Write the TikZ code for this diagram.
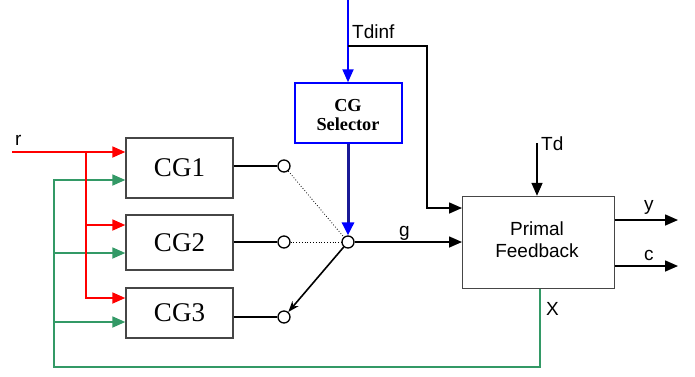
\documentclass[tikz,border=0pt]{standalone}
\usepackage{fontspec}
\setmainfont{Liberation Serif}
\newfontfamily\arialf{Liberation Sans}
\usetikzlibrary{arrows.meta}
\definecolor{rd}{RGB}{255,0,0}
\definecolor{gr}{RGB}{51,153,102}
\definecolor{bl}{RGB}{0,0,255}
\definecolor{nav}{RGB}{25,25,150}
\definecolor{bx}{RGB}{70,70,70}
\begin{document}
\begin{tikzpicture}[x=1pt,y=-1pt,
  tri/.style={-{Triangle[length=13pt,width=11pt]}},
  cgbox/.style={draw=bx,line width=1.4pt,minimum width=107pt,inner sep=0pt,font=\fontsize{27}{30}\selectfont},
  pbox/.style={draw=bx,line width=1.4pt,minimum width=152pt,minimum height=92pt,align=center,font=\arialf\fontsize{19}{22}\selectfont},
  selbox/.style={draw=bl,line width=2pt,minimum width=107pt,minimum height=60pt,align=center,font=\bfseries\fontsize{18.3}{19.5}\selectfont},
  sw/.style={circle,draw,fill=white,line width=1.3pt,minimum size=12pt,inner sep=0pt},
  blk/.style={line width=1.6pt},
  redl/.style={draw=rd,line width=1.8pt},
  grnl/.style={draw=gr,line width=1.8pt},
  lbl/.style={anchor=base west,inner sep=0pt,font=\arialf\fontsize{19}{22}\selectfont}]
\useasboundingbox (0,0) rectangle (695,376);
\fill[white] (0,0) rectangle (695,376);

% blocks
\node[cgbox,minimum height=60pt] (cg1) at (179.5,168) {CG1};
\node[cgbox,minimum height=55pt] (cg2) at (179.5,242.5) {CG2};
\node[cgbox,minimum height=50pt] (cg3) at (179.5,313) {CG3};
\node[selbox] (sel) at (348,113.3) {};
\node[align=center,font=\bfseries\fontsize{18.3}{19.5}\selectfont,inner sep=0pt] (seltxt) at (348,115) {CG\\Selector};
\node[pbox] (pf) at (538.7,242.5) {};
\node[align=center,font=\arialf\fontsize{19}{22}\selectfont,inner sep=0pt] (pftxt) at (537,239.5) {Primal\\Feedback};

% switch
\node[sw] (s1) at (284,166) {};
\node[sw] (s2) at (284,242) {};
\node[sw] (s3) at (284,317) {};
\node[sw] (sc) at (348,242) {};

\draw[blk] (cg1.east |- s1) -- (s1);
\draw[blk] (cg2.east |- s2) -- (s2);
\draw[blk] (cg3.east |- s3) -- (s3);
\draw[dotted,line width=0.8pt] (s1) -- (sc);
\draw[dotted,line width=0.8pt] (s2) -- (sc);
\draw[blk,-{Stealth[length=11pt,width=8pt]}] (sc) -- (s3);

% g
\draw[blk,tri] (sc) -- (pf.west |- sc);
\node[lbl] (g) at (399,236) {g};

% selector input
\coordinate (top) at (348,0);
\draw[draw=bl,line width=2pt,-{Triangle[length=13pt,width=11pt,fill=bl]}] (top) -- (sel.north);
\draw[draw=nav,line width=3pt,-{Triangle[length=13pt,width=12pt,color=bl,fill=bl]}] (sel.south) -- (sc.north);

% Tdinf branch
\coordinate (tj) at (348,46);
\coordinate (tc) at (427,46);
\draw[blk,tri] (tj) -- (tc) |- (pf.west |- {(0,208)});
\node[lbl] (tdinf) at (352,38) {Tdinf};

% Td
\coordinate (td) at (537,143);
\draw[blk,tri] (td) -- (td |- pf.north);
\node[lbl] (tdl) at (541,150) {Td};

% outputs
\coordinate (yo) at (678,220);
\coordinate (co) at (678,266);
\draw[blk,tri] (pf.east |- yo) -- (yo);
\draw[blk,tri] (pf.east |- co) -- (co);
\node[lbl] (yl) at (644,210) {y};
\node[lbl] (cl) at (644,260) {c};

% feedback X
\coordinate (gb2) at (540,367);
\coordinate (gb1) at (54,367);
\draw[grnl,tri] (pf.south -| gb2) -- (gb2) -- (gb1) |- (cg1.west |- {(0,180)});
\draw[grnl,tri] (54,253) -- (cg2.west |- {(0,253)});
\draw[grnl,tri] (54,322) -- (cg3.west |- {(0,322)});
\node[lbl] (xl) at (546,315) {X};

% reference r
\coordinate (r0) at (12,152);
\coordinate (rj) at (86,152);
\draw[redl,tri] (r0) -- (cg1.west |- r0);
\draw[redl,tri] (rj) |- (cg3.west |- {(0,298)});
\draw[redl,tri] (86,225) -- (cg2.west |- {(0,225)});
\node[lbl] (rl) at (15,145) {r};
\end{tikzpicture}
\end{document}
